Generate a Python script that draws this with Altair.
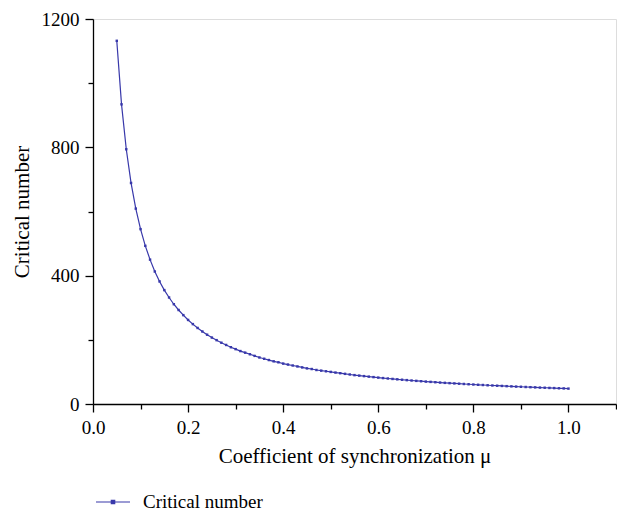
import altair as alt
import pandas as pd

mu = [0.05, 0.06, 0.07, 0.08, 0.09, 0.10, 0.11, 0.12, 0.13, 0.14,
      0.15, 0.16, 0.17, 0.18, 0.19, 0.20, 0.21, 0.22, 0.23, 0.24,
      0.25, 0.26, 0.27, 0.28, 0.29, 0.30, 0.31, 0.32, 0.33, 0.34,
      0.35, 0.36, 0.37, 0.38, 0.39, 0.40, 0.41, 0.42, 0.43, 0.44,
      0.45, 0.46, 0.47, 0.48, 0.49, 0.50, 0.51, 0.52, 0.53, 0.54,
      0.55, 0.56, 0.57, 0.58, 0.59, 0.60, 0.61, 0.62, 0.63, 0.64,
      0.65, 0.66, 0.67, 0.68, 0.69, 0.70, 0.71, 0.72, 0.73, 0.74,
      0.75, 0.76, 0.77, 0.78, 0.79, 0.80, 0.81, 0.82, 0.83, 0.84,
      0.85, 0.86, 0.87, 0.88, 0.89, 0.90, 0.91, 0.92, 0.93, 0.94,
      0.95, 0.96, 0.97, 0.98, 0.99, 1.00]

critical = [1132, 934, 794, 689, 609, 545, 493, 450, 413, 382,
            355, 332, 311, 293, 277, 262, 249, 237, 226, 216,
            207, 199, 191, 184, 177, 171, 165, 160, 155, 150,
            145, 141, 137, 133, 130, 126, 123, 120, 117, 114,
            111, 109, 106, 104, 102, 100, 98, 96, 94, 92,
            90, 88.5, 86.9, 85.3, 83.8, 82.3, 80.8, 79.5, 78.1, 76.9,
            75.6, 74.4, 73.2, 72.1, 71.0, 69.9, 68.9, 67.9, 66.9, 65.9,
            65.0, 64.1, 63.3, 62.4, 61.6, 60.7, 59.9, 59.2, 58.4, 57.7,
            57.0, 56.3, 55.6, 54.9, 54.3, 53.7, 53.0, 52.4, 51.8, 51.2,
            50.7, 50.1, 49.6, 49.0, 48.5, 48.0]

series_name = "Critical number"
x_ticks = [0.0, 0.1, 0.2, 0.3, 0.4, 0.5, 0.6, 0.7, 0.8, 0.9, 1.0, 1.1]
y_ticks = [0, 200, 400, 600, 800, 1000, 1200]

df = pd.DataFrame({"mu": mu, "value": critical, "series": series_name})

FONT = "Liberation Serif"
COLOR = "#3838aa"

x_axis = alt.Axis(
    values=x_ticks,
    labelExpr="round(datum.value*10) % 2 == 0 ? format(datum.value, '.1f') : ''",
    tickSize={"condition": {"test": "round(datum.value*10) % 2 == 0", "value": 8}, "value": 5},
    grid=False,
    domainColor="black", tickColor="black",
    domainWidth=1.3, tickWidth=1.3,
    labelFont=FONT, labelFontSize=19, labelColor="black", labelPadding=6,
    labelFlush=False, labelOverlap=False,
    title="Coefficient of synchronization μ",
    titleFont=FONT, titleFontSize=21, titleFontWeight="normal", titleColor="black",
    titlePadding=8,
)

y_axis = alt.Axis(
    values=y_ticks,
    labelExpr="datum.value % 400 == 0 ? format(datum.value, 'd') : ''",
    tickSize={"condition": {"test": "datum.value % 400 == 0", "value": 8}, "value": 5},
    grid=False,
    domainColor="black", tickColor="black",
    domainWidth=1.3, tickWidth=1.3,
    labelFont=FONT, labelFontSize=19, labelColor="black", labelPadding=6,
    labelFlush=False, labelOverlap=False,
    title="Critical number",
    titleFont=FONT, titleFontSize=21, titleFontWeight="normal", titleColor="black",
    titlePadding=9,
)

legend = alt.Legend(
    title=None,
    orient="none",
    legendX=2,
    legendY=465,
    symbolType="M-1,0H1M-0.1,-0.1H0.1V0.1H-0.1Z",
    symbolSize=1156,
    symbolStrokeWidth=1.2,
    symbolFillColor=COLOR,
    labelFont=FONT, labelFontSize=19, labelColor="black",
    labelOffset=12,
)

chart = (
    alt.Chart(df)
    .mark_line(strokeWidth=1.2, point=alt.OverlayMarkDef(shape="square", size=6, filled=True))
    .encode(
        x=alt.X("mu:Q", scale=alt.Scale(domain=[0, 1.1], nice=False, zero=False), axis=x_axis),
        y=alt.Y("value:Q", scale=alt.Scale(domain=[0, 1200], nice=False), axis=y_axis),
        color=alt.Color("series:N", scale=alt.Scale(domain=[series_name], range=[COLOR]), legend=legend),
    )
    .properties(
        width=523,
        height=385,
        padding={"left": 93, "top": 19, "right": 1, "bottom": 109},
        autosize="none",
    )
    .configure_view(stroke=None)
    .configure(background="white")
)

chart.save("out.html", embed_options={"renderer": "svg", "actions": False})
